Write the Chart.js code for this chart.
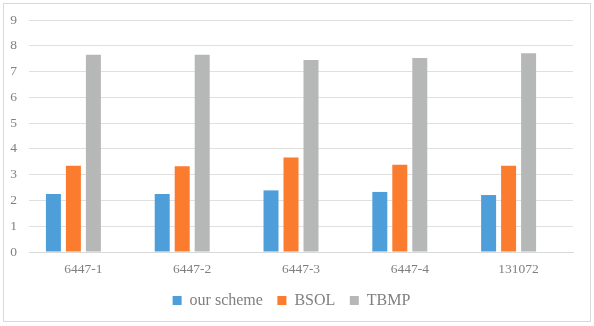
<!DOCTYPE html>
<html>
<head>
<meta charset="utf-8">
<script src="https://cdn.jsdelivr.net/npm/chart.js@4"></script>
<style>
  html, body { margin: 0; padding: 0; background: #fff; }
  #wrap { position: relative; width: 594px; height: 326px; }
</style>
</head>
<body>
<div id="wrap"><canvas id="barChart" width="594" height="326"></canvas></div>
<script>
const categories = ['6447-1', '6447-2', '6447-3', '6447-4', '131072'];
const ourScheme = [2.25, 2.25, 2.39, 2.33, 2.21];
const bsol = [3.35, 3.33, 3.67, 3.38, 3.35];
const tbmp = [7.65, 7.65, 7.45, 7.53, 7.71];
const yTicks = [0, 1, 2, 3, 4, 5, 6, 7, 8, 9];

const textColor = '#7f7f7f';
const serif = "'Liberation Serif', 'Times New Roman', serif";

// light frame around the whole chart, like the Excel chart border
const framePlugin = {
  id: 'frame',
  afterDraw(chart) {
    const ctx = chart.ctx;
    ctx.save();
    ctx.strokeStyle = '#d9d9d9';
    ctx.lineWidth = 1;
    ctx.strokeRect(3.5, 3.5, 587, 318);
    ctx.restore();
  }
};

new Chart(document.getElementById('barChart'), {
  type: 'bar',
  data: {
    labels: categories,
    datasets: [
      { label: 'our scheme', data: ourScheme, backgroundColor: '#4e9fd9' },
      { label: 'BSOL', data: bsol, backgroundColor: '#fb7b2f' },
      { label: 'TBMP', data: tbmp, backgroundColor: '#b6b7b7' },
      // empty slot, the source chart leaves room for a fourth series
      { label: '', data: categories.map(() => null), backgroundColor: 'rgba(0,0,0,0)' }
    ]
  },
  options: {
    responsive: false,
    animation: false,
    devicePixelRatio: 1,
    layout: { padding: { top: 20, left: 10, right: 21, bottom: 7.5 } },
    datasets: {
      bar: { categoryPercentage: 0.735, barPercentage: 0.75 }
    },
    scales: {
      x: {
        grid: { display: false, drawTicks: false },
        border: { color: '#d9d9d9' },
        ticks: { color: textColor, font: { family: serif, size: 13.5 }, padding: 9 },
        afterFit: axis => { axis.paddingLeft = 0; axis.paddingRight = 0; axis.height = 26; }
      },
      y: {
        min: 0,
        max: 9,
        afterBuildTicks: axis => { axis.ticks = yTicks.map(v => ({ value: v })); },
        grid: { color: '#e0e0e0', drawTicks: false },
        border: { display: false },
        ticks: { color: textColor, font: { family: serif, size: 13.5 }, padding: 12 },
        afterFit: axis => { axis.paddingTop = 0; axis.paddingBottom = 0; axis.width = 19; }
      }
    },
    plugins: {
      legend: {
        position: 'bottom',
        labels: {
          color: textColor,
          font: { family: serif, size: 16 },
          boxWidth: 9,
          boxHeight: 9,
          padding: 14.5,
          filter: item => item.text !== ''
        }
      },
      tooltip: { enabled: false }
    }
  },
  plugins: [framePlugin]
});
</script>
</body>
</html>
